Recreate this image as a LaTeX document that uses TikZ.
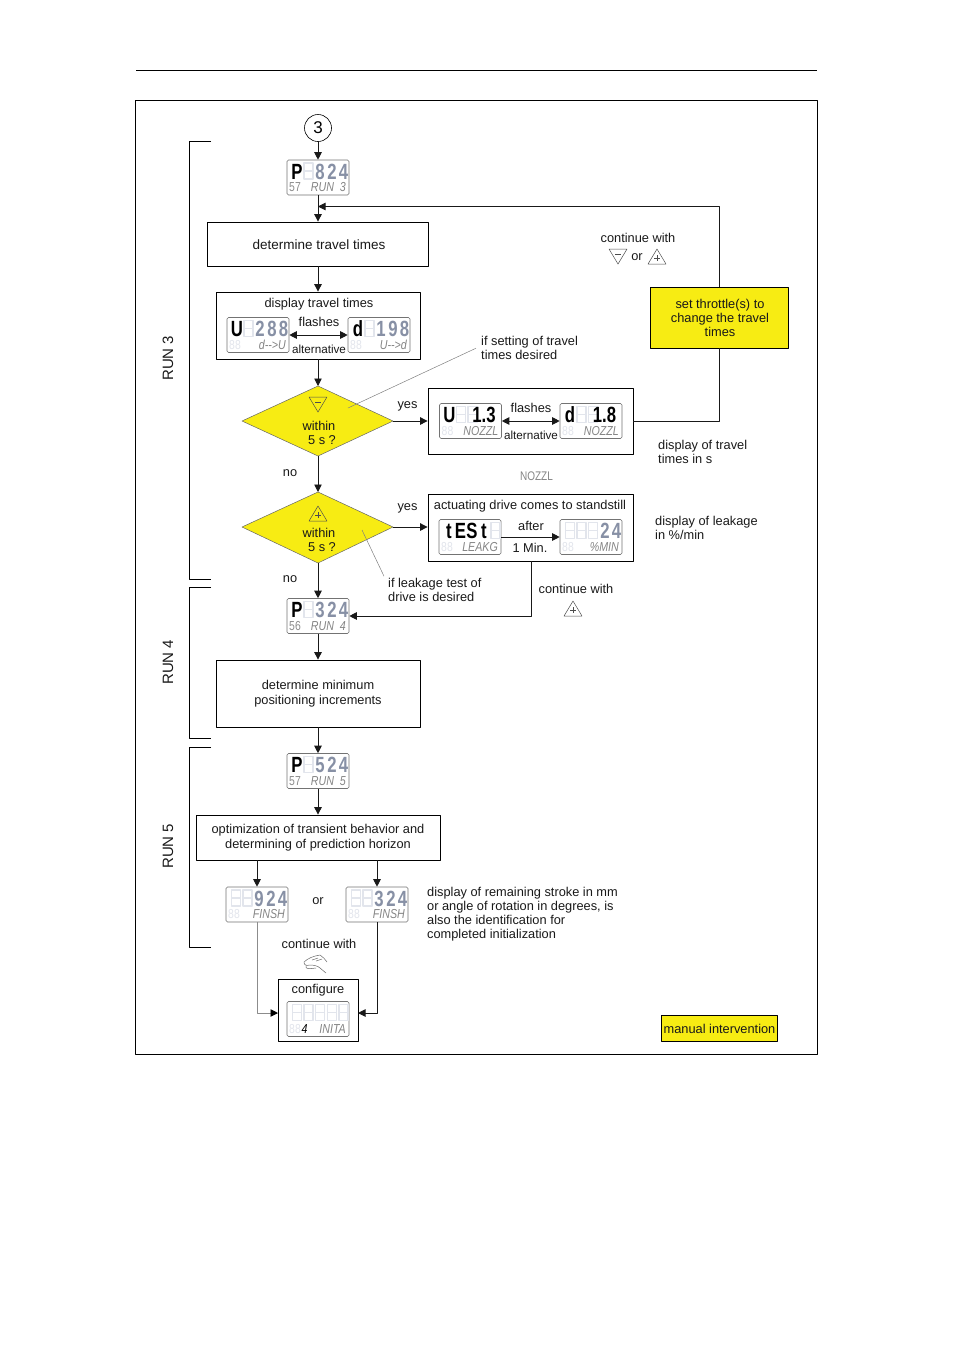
\documentclass[tikz,border=0pt]{standalone}
\usepackage{fontspec}
\setmainfont{Liberation Sans}
\usetikzlibrary{arrows.meta}

% one display: name, x, y, dark chars, grey chars, idle places, left tag, lower text
\newcommand{\lcd}[8]{
    \node[lcdbox] (#1) at (#2, #3) {};
    \foreach \p in {#6} {
        \draw[ghost, xshift=#2pt + \p pt, yshift=-#3pt] (-4.5, -14.5) rectangle (4.5, 1.5) (-4.5, -6.5) -- (4.5, -6.5);
    }
    \foreach \p/\c in {#4} {
        \node[bigchar, text=black] (#1-d\p) at (#2 + \p, #3 - 6) {\c};
    }
    \foreach \p/\c in {#5} {
        \node[bigchar, text=lcdgrey] (#1-g\p) at (#2 + \p, #3 - 6) {\c};
    }
    \node[lcdtag] (#1-tag) at (#2 - 23, #3 + 10) {#7};
    \node[lcdlow] (#1-low) at (#2 + 28, #3 + 10) {#8};
}
\newcommand{\idletag}{\textcolor{ghostblue}{88}}

\begin{document}
\begin{tikzpicture}[
        x = 1pt, y = -1pt,
        line join=round,
        >={Triangle[length=7.5pt, width=7.5pt]},
        flowline/.style = {draw=black!90, line width=0.9pt},
        leader/.style = {draw=black!50, line width=0.5pt},
        flowbox/.style = {draw=black, line width=0.8pt, inner sep=0pt},
        yellowbox/.style = {flowbox, fill=lcdyellow},
        decision/.style = {draw=black!60, line width=0.5pt, fill=lcdyellow},
        txt/.style = {inner sep=0pt, yshift=-0.2pt, align=center, text=black!90, font=\fontsize{12.8}{14.2}\selectfont},
        note/.style = {txt, align=left, anchor=west},
        tiny/.style = {inner sep=0pt, yshift=-0.2pt, text=black!90, font=\fontsize{11.7}{13}\selectfont},
        lcdbox/.style = {draw=black!55, line width=0.6pt, rounded corners=1.5pt, minimum width=62pt, minimum height=35pt, inner sep=0pt, fill=white},
        ghost/.style = {draw=ghostblue, line width=1.6pt},
        bigchar/.style = {inner sep=0pt, font=\bfseries\fontsize{22}{22}\selectfont, xscale=0.76},
        lcdtag/.style = {inner sep=0pt, text=black!45, font=\fontsize{13}{13}\selectfont, xscale=0.8},
        lcdlow/.style = {inner sep=0pt, anchor=east, text=black!48, font=\itshape\fontsize{13}{13}\selectfont, xscale=0.82},
        keyline/.style = {draw=black!70, line width=0.5pt}
    ]
        \definecolor{lcdyellow}{HTML}{F7EC13}
        \definecolor{lcdgrey}{HTML}{8790A5}
        \definecolor{ghostblue}{HTML}{E2E5EC}

        \useasboundingbox (0, 0) rectangle (954, 1350);

        \coordinate (ruleL) at (136, 70.5);
        \coordinate (ruleR) at (817, 70.5);
        \draw[line width=0.8pt] (ruleL) -- (ruleR);
        \draw[line width=0.7pt] (135.5, 100.5) rectangle (817.5, 1054.5);

        % run brackets
        \draw[line width=0.7pt] (211, 141) -- (189.5, 141) -- (189.5, 579) -- (211, 579);
        \draw[line width=0.7pt] (211, 587) -- (189.5, 587) -- (189.5, 738) -- (211, 738);
        \draw[line width=0.7pt] (211, 747) -- (189.5, 747) -- (189.5, 947) -- (211, 947);
        \node[txt, rotate=90, font=\fontsize{15}{15}\selectfont] (run3) at (168, 358) {RUN 3};
        \node[txt, rotate=90, font=\fontsize{15}{15}\selectfont] (run4) at (168, 662) {RUN 4};
        \node[txt, rotate=90, font=\fontsize{15}{15}\selectfont] (run5) at (168, 846) {RUN 5};

        \node[circle, draw, line width=0.6pt, minimum size=27pt, inner sep=0pt, font=\fontsize{17}{17}\selectfont] (start) at (318, 128) {3};
        \lcd{lcdRunA}{318}{177.5}{-21/P}{2/8,14/2,25.5/4}{-9.5}{57}{RUN\ \ 3}

        \node[flowbox, minimum width=221pt, minimum height=44pt] (travel) at (317.5, 244) {};
        \node[txt, font=\fontsize{13.5}{14.2}\selectfont] (traveltext) at (319, 244) {determine travel times};

        \node[flowbox, minimum width=204pt, minimum height=67pt] (showtimes) at (318, 325.5) {};
        \node[txt] (showtitle) at (319, 304) {display travel times};
        \lcd{lcdUp}{258}{335}{-21/U}{2/2,14/8,25.5/8}{-9.5}{\idletag}{d-{}->U}
        \lcd{lcdDown}{379}{335}{-21/d}{2/1,14/9,25.5/8}{-9.5}{\idletag}{U-{}->d}
        \node[txt] (flashA) at (319, 322) {flashes};
        \node[tiny] (altA) at (319, 349) {alternative};
        \draw[flowline, <->] (lcdUp) -- (lcdDown);

        \draw[decision] (318, 386) -- (393, 421) -- (318, 456) -- (242, 421) -- cycle;
        \coordinate (askDownN) at (318, 386);
        \coordinate (askDownS) at (318, 456);
        \coordinate (askDownE) at (393, 421);
        \draw[keyline] (309, 397) -- (327, 397) -- (318, 412) -- cycle;
        \draw[keyline] (315, 402) -- (321, 402);
        \node[txt] (withinA) at (319, 426) {within};
        \node[txt] (secA) at (322, 440) {5 s ?};

        \draw[decision] (318, 492) -- (393, 527) -- (318, 563) -- (242, 527) -- cycle;
        \coordinate (askUpN) at (318, 492);
        \coordinate (askUpS) at (318, 563);
        \coordinate (askUpE) at (393, 527);
        \draw[keyline] (309, 521) -- (327, 521) -- (318, 506) -- cycle;
        \draw[keyline] (315, 515) -- (321, 515) (318, 512) -- (318, 518);
        \node[txt] (withinB) at (319, 533) {within};
        \node[txt] (secB) at (322, 547) {5 s ?};

        \node[txt] (yesA) at (407.5, 406) {yes};
        \node[txt] (yesB) at (407.5, 508) {yes};
        \node[txt] (noA) at (290, 473) {no};
        \node[txt] (noB) at (290, 579) {no};

        \node[flowbox, minimum width=205pt, minimum height=66pt] (nozzle) at (530.5, 421) {};
        \lcd{lcdNozU}{470.5}{421}{-21/U}{}{-9.5,2}{\idletag}{NOZZL}
        \node[bigchar, text=black] (nozU) at (484, 415) {1.3};
        \lcd{lcdNozD}{591}{421}{-21/d}{}{-9.5,2}{\idletag}{NOZZL}
        \node[bigchar, text=black] (nozD) at (604.5, 415) {1.8};
        \node[txt] (flashB) at (531, 408) {flashes};
        \node[tiny] (altB) at (531, 435) {alternative};
        \draw[flowline, <->] (lcdNozU) -- (lcdNozD);
        \node[inner sep=0pt, text=black!48, font=\fontsize{12.5}{12}\selectfont, xscale=0.8] (nozzlabel) at (536.5, 476) {NOZZL};

        \node[flowbox, minimum width=205pt, minimum height=67pt] (leak) at (530.5, 527.5) {};
        \node[txt] (leaktitle) at (530, 506) {actuating drive comes to standstill};
        \lcd{lcdTest}{470}{537}{-21/t,-9.5/E,2/S,14/t}{}{25.5}{\idletag}{LEAKG}
        \lcd{lcdRate}{591}{537}{}{14/2,25.5/4}{-21,-9.5,2}{\idletag}{\%MIN}
        \node[txt] (after) at (531, 526) {after};
        \node[txt] (minute) at (530, 548) {1 Min.};
        \draw[flowline, ->] (lcdTest) -- (lcdRate);

        \lcd{lcdRunB}{318}{616}{-21/P}{2/3,14/2,25.5/4}{-9.5}{56}{RUN\ \ 4}
        \node[flowbox, minimum width=204pt, minimum height=67pt] (minimum) at (318, 693.5) {};
        \node[txt] (minimumtext) at (318, 693.5) {determine minimum\\positioning increments};
        \lcd{lcdRunC}{318}{771}{-21/P}{2/5,14/2,25.5/4}{-9.5}{57}{RUN\ \ 5}
        \node[flowbox, minimum width=244pt, minimum height=45pt] (optimize) at (318, 837.5) {};
        \node[txt] (optimizetext) at (318, 837.5) {optimization of transient behavior and\\determining of prediction horizon};

        \lcd{lcdEndA}{257}{904.5}{}{2/9,14/2,25.5/4}{-21,-9.5}{\idletag}{FINSH}
        \lcd{lcdEndB}{377}{904.5}{}{2/3,14/2,25.5/4}{-21,-9.5}{\idletag}{FINSH}
        \node[txt] (orA) at (318, 901) {or};
        \node[note] (remain) at (427, 914) {display of remaining stroke in mm\\or angle of rotation in degrees, is\\also the identification for\\completed initialization};

        \node[txt] (contA) at (319, 944) {continue with};
        % hand
        \draw[draw=black!60, line width=0.5pt] (304, 962) .. controls (308, 958) and (314, 956) .. (320, 955) (320, 955) .. controls (323, 957) and (325, 959) .. (327, 962) (304, 962) .. controls (304, 965) and (306, 966) .. (310, 965) (310, 965) .. controls (314, 965) and (318, 966) .. (320, 968) (320, 968) -- (326, 973) (306, 966) .. controls (305, 969) and (309, 969) .. (316, 968) (312, 960) -- (318, 958) (316, 961) -- (322, 959);

        \node[flowbox, minimum width=80pt, minimum height=62pt] (configure) at (318, 1010) {};
        \node[txt] (conftitle) at (318, 990) {configure};
        \lcd{lcdInit}{318}{1019}{}{}{-21,-9.5,2,14,25.5}{\idletag}{\textcolor{black}{4}\ \ \ \ INITA}

        \node[yellowbox, minimum width=138pt, minimum height=61pt] (throttle) at (719, 317.5) {};
        \node[txt] (throttletext) at (720, 317.5) {set throttle(s) to\\change the travel\\times};
        \node[yellowbox, minimum width=116pt, minimum height=26pt] (manual) at (719, 1028) {};
        \node[txt] (manualtext) at (719.5, 1028.5) {manual intervention};

        % notes
        \node[txt] (contB) at (638, 238) {continue with};
        \draw[keyline] (609, 249) -- (627, 249) -- (618, 264) -- cycle;
        \draw[keyline] (615, 254) -- (621, 254);
        \node[txt] (orB) at (637, 257) {or};
        \draw[keyline] (648, 264) -- (666, 264) -- (657, 249) -- cycle;
        \draw[keyline] (654, 258) -- (660, 258) (657, 255) -- (657, 261);
        \node[note] (noteSet) at (481, 348) {if setting of travel\\times desired};
        \node[note] (noteTimes) at (658, 452) {display of travel\\times in s};
        \node[note] (noteLeak) at (655, 527.5) {display of leakage\\in \%/min};
        \node[note] (noteTest) at (388, 590) {if leakage test of\\drive is desired};
        \node[txt] (contC) at (576, 589) {continue with};
        \draw[keyline] (564, 616) -- (582, 616) -- (573, 601) -- cycle;
        \draw[keyline] (570, 610) -- (576, 610) (573, 607) -- (573, 613);

        \coordinate (leadA) at (348, 408);
        \coordinate (leadB) at (362, 530);
        \draw[leader] (noteSet.west) ++(-5, 0) -- (leadA);
        \draw[leader] (noteTest.north west) ++(-4, -2) -- (leadB);

        % connectors
        \draw[flowline, ->] (start) -- (lcdRunA);
        \draw[flowline, ->] (lcdRunA) -- (travel.north -| lcdRunA);
        \draw[flowline, ->] (travel.south -| lcdRunA) -- (showtimes);
        \draw[flowline, ->] (showtimes.south -| askDownN) -- (askDownN);
        \draw[flowline, ->] (askDownS) -- (askUpN);
        \draw[flowline, ->] (askUpS) -- (lcdRunB);
        \draw[flowline, ->] (lcdRunB) -- (minimum);
        \draw[flowline, ->] (minimum) -- (lcdRunC);
        \draw[flowline, ->] (lcdRunC) -- (optimize);
        \draw[flowline, ->] (askDownE) -- (askDownE -| nozzle.west);
        \draw[flowline, ->] (askUpE) -- (askUpE -| leak.west);
        \draw[flowline, ->] ([xshift=1pt]leak.south) |- (lcdRunB.east);
        \draw[flowline] (nozzle.east) -| (throttle.south);
        \coordinate (backIn) at (318, 206.5);
        \draw[flowline, ->] (throttle.north) |- (backIn);
        \coordinate (feedA) at (278, 1013);
        \coordinate (feedB) at (358, 1013);
        \draw[flowline, ->] (optimize.south -| lcdEndA) -- (lcdEndA);
        \draw[flowline, ->] (optimize.south -| lcdEndB) -- (lcdEndB);
        \draw[flowline, black!45, -{Triangle[black, length=7.5pt, width=7.5pt]}] (lcdEndA.south) |- (feedA);
        \draw[flowline, ->] (lcdEndB.south) |- (feedB);
    \end{tikzpicture}
\end{document}
